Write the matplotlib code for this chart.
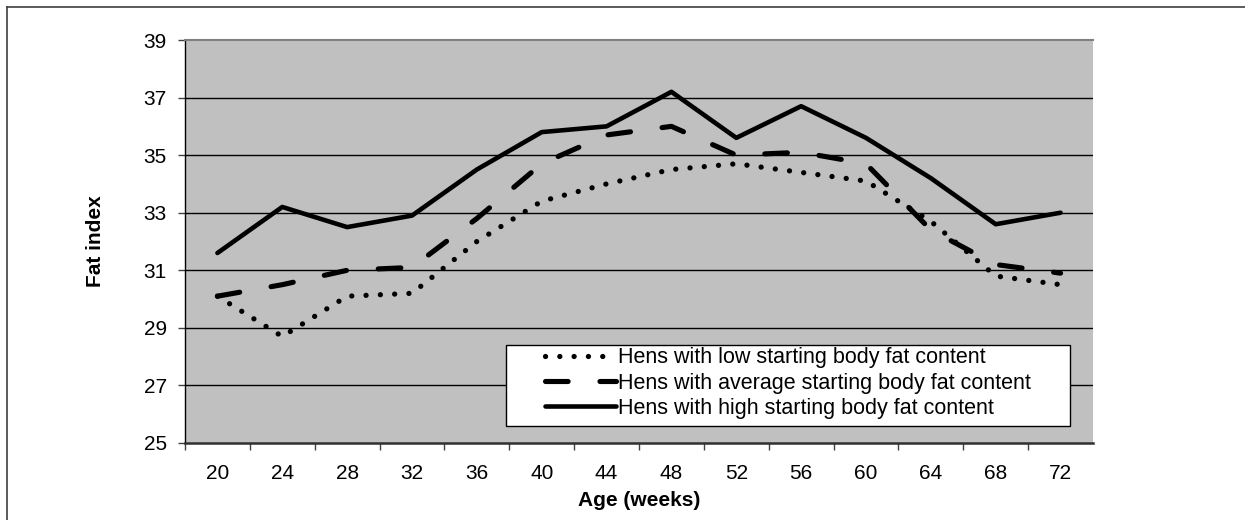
import matplotlib
matplotlib.use("Agg")
import matplotlib.pyplot as plt
from matplotlib.lines import Line2D
from matplotlib.patches import Rectangle

plt.rcParams['font.family'] = ['Liberation Sans', 'DejaVu Sans']

ages = ["20", "24", "28", "32", "36", "40", "44", "48", "52", "56", "60", "64", "68", "72"]
low = [30.1, 28.7, 30.1, 30.2, 32.0, 33.4, 34.0, 34.5, 34.7, 34.4, 34.1, 32.7, 30.8, 30.5]
average = [30.1, 30.5, 31.0, 31.1, 32.8, 34.7, 35.7, 36.0, 35.0, 35.1, 34.7, 32.4, 31.2, 30.9]
high = [31.6, 33.2, 32.5, 32.9, 34.5, 35.8, 36.0, 37.2, 35.6, 36.7, 35.6, 34.2, 32.6, 33.0]
labels = ["Hens with low starting body fat content",
          "Hens with average starting body fat content",
          "Hens with high starting body fat content"]
yticks = [25, 27, 29, 31, 33, 35, 37, 39]

W, H = 1245, 520
fig = plt.figure(figsize=(W / 100, H / 100), dpi=100)
L, R, T, B = 185, 1093, 40, 443
ax = fig.add_axes([L / W, 1 - B / H, (R - L) / W, (B - T) / H])
ax.set_facecolor('#C0C0C0')

x = list(range(len(ages)))
lw = 3.3
ax.plot(x, low, color='black', lw=lw + 0.5, linestyle=(0, (0.01, 2.7)),
        dash_capstyle='round', solid_joinstyle='round', label=labels[0], zorder=3)
ax.plot(x, average, color='black', lw=lw + 0.4, linestyle=(0, (4.4, 6.2)),
        dash_capstyle='round', solid_joinstyle='round', label=labels[1], zorder=3)
ax.plot(x, high, color='black', lw=lw, linestyle='-', solid_capstyle='round',
        solid_joinstyle='round', label=labels[2], zorder=3)

ax.set_xlim(-0.5, len(ages) - 0.5)
ax.set_ylim(25, 39)
ax.set_yticks(yticks)
ax.set_yticklabels([str(v) for v in yticks], fontsize=15)
for v in yticks[1:-1]:
    ax.axhline(v, color='black', lw=1.0, zorder=1)

ax.set_xticks(x)
ax.set_xticklabels(ages, fontsize=15)
ax.set_xticks([i + 0.5 for i in range(-1, len(ages) - 1)], minor=True)
ax.tick_params(axis='x', which='major', length=0, pad=15)
ax.tick_params(axis='x', which='minor', length=5, width=1, direction='out', color='#404040')
ax.tick_params(axis='y', length=5, width=1, direction='out', pad=8, color='#404040')

ax.spines['top'].set_color('#808080')
ax.spines['top'].set_linewidth(1.5)
ax.spines['right'].set_visible(False)
ax.spines['left'].set_color('black')
ax.spines['left'].set_linewidth(1.0)
ax.spines['bottom'].set_color('#303030')
ax.spines['bottom'].set_linewidth(1.8)

ax.set_xlabel("Age (weeks)", fontsize=15, fontweight='bold', labelpad=6)
ax.set_ylabel("Fat index", fontsize=15, fontweight='bold', labelpad=28)

# legend box
fig.add_artist(Rectangle((506 / W, 1 - 426 / H), (1070 - 506) / W, (426 - 345) / H,
                         transform=fig.transFigure, facecolor='white', edgecolor='black',
                         lw=1.0, zorder=4))
leg = ax.legend(loc='center left', bbox_to_anchor=(545 / W, 1 - 383 / H),
                bbox_transform=fig.transFigure,
                fontsize=15.5, frameon=False, handlelength=3.3, handletextpad=0.1,
                labelspacing=0.2, borderpad=0, borderaxespad=0)
leg.set_zorder(5)
fig.add_artist(leg)

# outer chart border (top and left visible)
fig.add_artist(Line2D([7 / W, 1.0], [1 - 7 / H, 1 - 7 / H], color='#404040', lw=1.2,
                      transform=fig.transFigure))
fig.add_artist(Line2D([7 / W, 7 / W], [1 - 7 / H, 0.0], color='#404040', lw=1.2,
                      transform=fig.transFigure))

fig.savefig("out.png", dpi=100)
